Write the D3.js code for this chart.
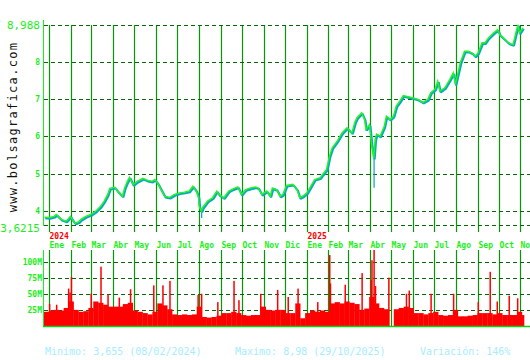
<!DOCTYPE html>
<html><head><meta charset="utf-8">
<script src="https://cdn.jsdelivr.net/npm/d3@7"></script>
<style>html,body{margin:0;padding:0;background:#fff;overflow:hidden}</style>
</head><body><svg id="c" width="530" height="360"></svg>
<script>
// ---------- DATA ----------
const priceDates = ["2023-12-26","2024-01-02","2024-01-09","2024-01-12","2024-01-19","2024-01-26","2024-02-01","2024-02-05","2024-02-08","2024-02-13","2024-02-16","2024-02-23","2024-03-01","2024-03-08","2024-03-15","2024-03-20","2024-03-25","2024-03-28","2024-04-04","2024-04-08","2024-04-15","2024-04-18","2024-04-22","2024-04-25","2024-04-30","2024-05-06","2024-05-14","2024-05-20","2024-05-27","2024-05-31","2024-06-04","2024-06-10","2024-06-14","2024-06-21","2024-06-28","2024-07-05","2024-07-12","2024-07-19","2024-07-24","2024-07-29","2024-08-01","2024-08-02","2024-08-05","2024-08-07","2024-08-14","2024-08-21","2024-08-27","2024-08-30","2024-09-06","2024-09-13","2024-09-19","2024-09-26","2024-10-01","2024-10-07","2024-10-14","2024-10-21","2024-10-25","2024-10-30","2024-11-06","2024-11-11","2024-11-14","2024-11-20","2024-11-25","2024-11-29","2024-12-04","2024-12-13","2024-12-19","2024-12-23","2024-12-27","2025-01-02","2025-01-06","2025-01-13","2025-01-21","2025-01-24","2025-01-30","2025-02-03","2025-02-07","2025-02-14","2025-02-21","2025-02-28","2025-03-07","2025-03-11","2025-03-14","2025-03-21","2025-03-25","2025-03-27","2025-04-01","2025-04-04","2025-04-07","2025-04-09","2025-04-11","2025-04-16","2025-04-22","2025-04-25","2025-04-30","2025-05-05","2025-05-09","2025-05-14","2025-05-19","2025-05-26","2025-06-02","2025-06-09","2025-06-16","2025-06-23","2025-06-27","2025-07-03","2025-07-07","2025-07-10","2025-07-17","2025-07-24","2025-07-29","2025-08-01","2025-08-08","2025-08-14","2025-08-19","2025-08-25","2025-08-29","2025-09-02","2025-09-08","2025-09-12","2025-09-17","2025-09-24","2025-09-30","2025-10-03","2025-10-08","2025-10-13","2025-10-17","2025-10-22","2025-10-27","2025-10-29","2025-10-31","2025-11-05"];
const priceValues = [3.82,3.81,3.84,3.89,3.76,3.71,3.84,3.72,3.655,3.70,3.76,3.84,3.89,3.98,4.11,4.25,4.43,4.59,4.62,4.52,4.38,4.60,4.78,4.89,4.69,4.78,4.86,4.81,4.78,4.83,4.73,4.52,4.38,4.35,4.43,4.47,4.49,4.52,4.65,4.52,4.35,4.11,3.98,4.08,4.25,4.34,4.52,4.43,4.34,4.52,4.58,4.63,4.43,4.56,4.60,4.63,4.60,4.43,4.52,4.38,4.60,4.56,4.38,4.43,4.67,4.70,4.56,4.34,4.38,4.47,4.60,4.83,4.88,4.96,5.10,5.45,5.68,5.86,6.08,6.22,6.08,6.35,6.48,6.62,6.44,6.17,6.30,5.75,5.40,5.90,6.05,5.99,6.26,6.53,6.44,6.53,6.80,6.93,7.08,7.05,7.02,6.98,6.90,6.98,7.16,7.25,7.47,7.20,7.29,7.51,7.69,7.38,7.96,8.27,8.27,8.22,8.14,8.22,8.50,8.50,8.63,8.76,8.85,8.72,8.63,8.54,8.48,8.45,8.85,8.98,8.76,8.90];
const wickDates = ["2024-08-05","2025-04-07","2025-10-16"];
const wickLows = [3.81,4.62,8.10];

const volWeekly = [22,24,25,24,28,38,25,22,23,28, 38,36,33,30,30,30,34,36,24,22, 20,18,22,35,32,26,18,17,18,17, 18,30,14,13,14,16,20,20,22,20, 17,16,17,17,30,25,24,25,25,20, 20,35,12,20,24,22,24,22,35,37, 35,38,36,34,25,27,45,35,28,26, 0,26,28,30,28,20,20,18,20,22, 17,16,17,25,15,15,16,17,20,20, 20,18,20,17,17,17,22,17];
const volSpikeDates = ["2024-01-02","2024-01-12","2024-01-29","2024-01-31","2024-02-02","2024-03-01","2024-03-15","2024-03-25","2024-04-10","2024-04-26","2024-05-29","2024-06-11","2024-06-21","2024-07-31","2024-08-05","2024-08-28","2024-09-20","2024-09-27","2024-10-28","2024-11-21","2024-12-06","2024-12-20","2025-01-17","2025-02-03","2025-02-04","2025-02-25","2025-03-21","2025-04-03","2025-04-04","2025-04-07","2025-04-09","2025-04-28","2025-05-23","2025-05-27","2025-06-27","2025-07-29","2025-09-02","2025-09-19","2025-09-29","2025-10-16","2025-10-28"];
const volSpikeValues = [34,33,58,52,76,50,92,48,44,57,63,63,70,48,50,37,70,40,50,56,45,58,37,110,66,64,82,71,102,118,62,75,50,55,50,50,37,84,38,47,43];

const priceTicks = [8.988,8,7,6,5,4,3.6215];
const priceTickLabels = ["8,988","8","7","6","5","4","3,6215"];
const volTicks = [25,50,75,100];
const volTickLabels = ["25M","50M","75M","100M"];
const monthNames = ["Ene","Feb","Mar","Abr","May","Jun","Jul","Ago","Sep","Oct","Nov","Dic"];
const footerTexts = ["Minimo: 3,655 (08/02/2024)","Maximo: 8,98 (29/10/2025)","Variación: 146%"];
const siteName = "www.bolsagrafica.com";

// ---------- DRAW ----------
const parse = d3.timeParse("%Y-%m-%d");
const svg = d3.select("#c");
svg.append("rect").attr("width",530).attr("height",360).attr("fill","#fff");
const mono = "'DejaVu Sans Mono', monospace";

const x = d3.scaleTime().domain([parse("2023-12-25"), parse("2025-11-06")]).range([44, 524]);
const y = d3.scaleLinear().domain([3.6215, 8.988]).range([225, 25]);
const vy = d3.scaleLinear().domain([0, 100]).range([326, 261.5]);

const months = d3.timeMonth.range(parse("2024-01-01"), parse("2025-11-02"));
const gridDark = "#0a640a", gridMid = "#069906", bright = "#19f019";

// vertical month lines
svg.append("g").selectAll("line").data(months).join("line")
  .attr("x1", d => Math.round(x(d)) + 0.5).attr("x2", d => Math.round(x(d)) + 0.5)
  .attr("y1", 25).attr("y2", 232).attr("stroke", gridMid).attr("stroke-width", 1.2);
svg.append("g").selectAll("line").data(months).join("line")
  .attr("x1", d => Math.round(x(d)) + 0.5).attr("x2", d => Math.round(x(d)) + 0.5)
  .attr("y1", 250).attr("y2", 326).attr("stroke", gridMid).attr("stroke-width", 1.2);

// horizontal dashed grids
svg.append("g").selectAll("line").data(priceTicks).join("line")
  .attr("x1", 44).attr("x2", 530)
  .attr("y1", d => Math.round(y(d)) + 0.5).attr("y2", d => Math.round(y(d)) + 0.5)
  .attr("stroke", gridDark).attr("stroke-width", 1.2).attr("stroke-dasharray", "4,3");
svg.append("g").selectAll("line").data(volTicks).join("line")
  .attr("x1", 44).attr("x2", 530)
  .attr("y1", d => Math.round(vy(d)) + 0.5).attr("y2", d => Math.round(vy(d)) + 0.5)
  .attr("stroke", gridDark).attr("stroke-width", 1.2).attr("stroke-dasharray", "4,3");

// price tick labels
svg.append("g").selectAll("text").data(priceTicks).join("text")
  .attr("x", 40).attr("y", (d,i) => y(d) + (i === 0 ? 4 : i === priceTicks.length - 1 ? 7 : 3))
  .attr("text-anchor", "end").attr("font-family", mono)
  .attr("font-size", (d,i) => (i === 0 || i === priceTicks.length - 1) ? 11 : 8)
  .attr("font-weight", (d,i) => (i === 0 || i === priceTicks.length - 1) ? "normal" : "bold")
  .attr("fill", bright).text((d,i) => priceTickLabels[i]);

// volume tick labels
svg.append("g").selectAll("text").data(volTicks).join("text")
  .attr("x", 42).attr("y", d => vy(d) + 3)
  .attr("text-anchor", "end").attr("font-family", mono).attr("font-size", 8).attr("font-weight", "bold")
  .attr("fill", bright).text((d,i) => volTickLabels[i]);

// month labels
svg.append("g").selectAll("text").data(months).join("text")
  .attr("x", d => Math.round(x(d)) + 0.5).attr("y", 248)
  .attr("font-family", mono).attr("font-size", 8).attr("font-weight", "bold")
  .attr("fill", bright).text(d => monthNames[d.getMonth()]);
// year labels
svg.append("g").selectAll("text").data(months.filter(d => d.getMonth() === 0)).join("text")
  .attr("x", d => Math.round(x(d)) + 0.5).attr("y", 238.5)
  .attr("font-family", mono).attr("font-size", 8).attr("font-weight", "bold")
  .attr("fill", "#ff0000").text(d => d.getFullYear());

// volume: weekly base + spikes
const end = x.domain()[1];
const weeks = d3.timeMonday.range(parse("2023-12-25"), d3.timeDay.offset(end, 1));
svg.append("g").selectAll("rect").data(volWeekly).join("rect")
  .attr("x", (d,i) => x(weeks[i]))
  .attr("width", (d,i) => x(d3.min([d3.timeDay.offset(weeks[i], 7), end])) - x(weeks[i]) + 0.3)
  .attr("y", d => vy(d)).attr("height", d => 326 - vy(d)).attr("fill", "#ff0000");
svg.append("g").selectAll("rect").data(volSpikeValues).join("rect")
  .attr("x", (d,i) => x(parse(volSpikeDates[i])) - 0.75).attr("width", 1.5)
  .attr("y", d => Math.max(250, vy(d))).attr("height", d => 326 - Math.max(250, vy(d))).attr("fill", "#ff0000");

// axes lines
svg.append("line").attr("x1", 43.5).attr("x2", 43.5).attr("y1", 20).attr("y2", 226).attr("stroke", bright).attr("stroke-width", 1);
svg.append("line").attr("x1", 43.5).attr("x2", 43.5).attr("y1", 250).attr("y2", 327).attr("stroke", bright).attr("stroke-width", 1);
svg.append("line").attr("x1", 43).attr("x2", 530).attr("y1", 326.5).attr("y2", 326.5).attr("stroke", "#11cc11").attr("stroke-width", 1.5);

// price wicks
svg.append("g").selectAll("line").data(wickLows).join("line")
  .attr("x1", (d,i) => x(parse(wickDates[i]))).attr("x2", (d,i) => x(parse(wickDates[i])))
  .attr("y1", (d,i) => y(priceValues[priceDates.indexOf(wickDates[i])] ?? d)).attr("y2", d => y(d))
  .attr("stroke", "#0aa0c0").attr("stroke-width", 1.2);

// price line
const pts = priceDates.map((d,i) => [x(parse(d)), y(priceValues[i])]);
const line = d3.line().x(d => d[0]).y(d => d[1]);
svg.append("path").attr("d", line(pts)).attr("fill", "none").attr("stroke", "#0aa8c0").attr("stroke-width", 2.2).attr("stroke-linejoin", "bevel")
  .attr("transform", "translate(0.5,0.6)");
svg.append("path").attr("d", line(pts)).attr("fill", "none").attr("stroke", "#22f522").attr("stroke-width", 1.4)
  .attr("transform", "translate(-0.4,-0.5)");

// site name
svg.append("text").attr("transform", "translate(17,127) rotate(-90)")
  .attr("text-anchor", "middle").attr("font-family", mono).attr("font-size", 12)
  .attr("letter-spacing", 1.3).attr("fill", "#111").text(siteName);

// footer
const footerX = [45, 235, 420];
svg.append("g").selectAll("text").data(footerTexts).join("text")
  .attr("x", (d,i) => footerX[i]).attr("y", 355)
  .attr("font-family", mono).attr("font-size", 10).attr("fill", "#a6ecff").text(d => d);
</script>
</body></html>
